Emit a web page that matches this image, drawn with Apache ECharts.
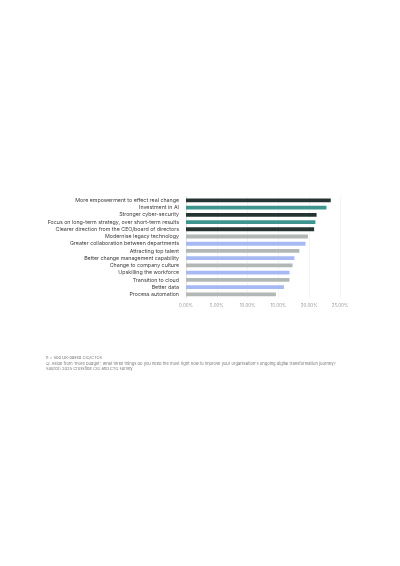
<!DOCTYPE html>
<html>
<head>
<meta charset="utf-8">
<script src="https://cdn.jsdelivr.net/npm/echarts@6/dist/echarts.min.js"></script>
<style>
  html, body { margin: 0; padding: 0; background: #fff; }
  #chart { width: 400px; height: 566px; }
</style>
</head>
<body>
<div id="chart"></div>
<script>
const categories = [
  'More empowerment to effect real change',
  'Investment in AI',
  'Stronger cyber-security',
  'Focus on long-term strategy, over short-term results',
  'Clearer direction from the CEO/board of directors',
  'Modernise legacy technology',
  'Greater collaboration between departments',
  'Attracting top talent',
  'Better change management capability',
  'Change to company culture',
  'Upskilling the workforce',
  'Transition to cloud',
  'Better data',
  'Process automation'
]
const values = [23.5, 22.8, 21.2, 21.0, 20.8, 19.8, 19.4, 18.4, 17.6, 17.3, 16.8, 16.8, 15.9, 14.6]
const barColors = [
  '#253432', '#3e9590', '#253432', '#3e9590', '#253432',
  '#b2b8b6', '#a7b9f2', '#b2b8b6', '#a7b9f2', '#b2b8b6',
  '#a7b9f2', '#b2b8b6', '#a7b9f2', '#b2b8b6'
]
const footnotes = [
  'n = 500 UK-based CIO/CTOs',
  "Q: Aside from 'more budget', what three things do you need the most right now to improve your organisation's ongoing digital transformation journey?",
  'Source: 2025 Crossfide CIO and CTO survey'
]

const chart = echarts.init(document.getElementById('chart'))
chart.setOption({
  animation: false,
  textStyle: { fontFamily: 'Inter, "Noto Sans", sans-serif' },
  grid: { left: 186, right: 60, top: 196.7, bottom: 268 },
  xAxis: {
    type: 'value',
    min: 0,
    max: 25,
    interval: 5,
    axisLine: { show: false },
    axisTick: { show: false },
    splitLine: { lineStyle: { color: '#ececec', width: 0.6 } },
    axisLabel: {
      formatter: v => v.toFixed(2) + '%',
      fontSize: 4.5,
      color: '#9a9a9a',
      margin: 5
    }
  },
  yAxis: {
    type: 'category',
    inverse: true,
    data: categories,
    axisLine: { lineStyle: { color: '#d8d8d8', width: 0.6 } },
    axisTick: { show: false },
    axisLabel: { interval: 0, fontSize: 5.3, color: '#3a3a3a', margin: 7 }
  },
  series: [{
    type: 'bar',
    data: values.map((v, i) => ({ value: v, itemStyle: { color: barColors[i] } })),
    barWidth: 3.8
  }],
  graphic: footnotes.map((t, i) => ({
    type: 'text',
    left: 46,
    top: 355.5 + i * 5.8,
    style: { text: t, fontSize: 4.1, fill: '#777', fontFamily: 'Inter, sans-serif' }
  }))
})
</script>
</body>
</html>
